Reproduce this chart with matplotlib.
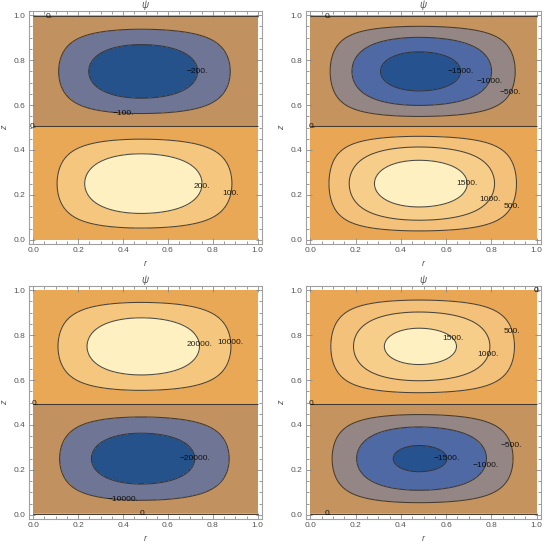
import numpy as np
import matplotlib.pyplot as plt
from matplotlib.ticker import MultipleLocator, FormatStrFormatter

plt.rcParams['font.family'] = ['Liberation Sans', 'DejaVu Sans']

# peak |psi|, sign of psi in the upper cell
amplitudes = [285, 1820, 27500, 1660]
top_sign = [-1, -1, 1, 1]
r_center = 0.48

levels = [
    [-200, -100, 0, 100, 200],
    [-1500, -1000, -500, 0, 500, 1000, 1500],
    [-20000, -10000, 0, 10000, 20000],
    [-1500, -1000, -500, 0, 500, 1000, 1500],
]

# where Mathematica put the contour labels (r, z)
label_pos = [
    [(0.07, 1.0), (0.0, 0.5), (0.69, 0.75), (0.40, 0.555), (0.70, 0.245), (0.86, 0.21)],
    [(0.08, 1.0), (0.01, 0.5), (0.67, 0.75), (0.78, 0.71), (0.87, 0.665), (0.66, 0.25), (0.78, 0.19), (0.87, 0.16)],
    [(0.71, 0.755), (0.87, 0.765), (0.01, 0.5), (0.70, 0.25), (0.40, 0.065), (0.49, 0.0)],
    [(0.87, 0.81), (0.60, 0.755), (0.77, 0.72), (0.01, 0.5), (0.89, 0.31), (0.59, 0.25), (0.77, 0.22), (0.08, 0.0)],
]

colors6 = ['#26528c', '#6f7594', '#c1925f', '#e9a856', '#f5c77e', '#fef0c0']
colors8 = ['#265390', '#4f69a4', '#948684', '#c4935e', '#e9a756', '#f3c17a', '#f7cd8a', '#fef0c0']
band_colors = [colors6, colors8, colors6, colors8]

# axes boxes in pixels: left, top, right, bottom
boxes = [(29, 11, 262, 244), (306, 11, 541, 244), (29, 286, 262, 519), (306, 286, 541, 519)]

W, H = 548, 550
fig = plt.figure(figsize=(W / 100, H / 100), dpi=100)

r = np.linspace(0, 1, 300)
z = np.linspace(0, 1, 300)
RR, ZZ = np.meshgrid(r, z)
d = np.where(RR < r_center, (r_center - RR) / r_center, (RR - r_center) / (1 - r_center))
radial = np.cos(np.pi / 2 * d)

grey = '#8a8a8a'

def fmt(v):
    s = f"{v:g}."
    return s.replace('-', '\u2212')

for i in range(4):
    l, t, rt, b = boxes[i]
    ax = fig.add_axes([l / W, 1 - b / H, (rt - l) / W, (b - t) / H])
    psi = amplitudes[i] * radial * (-top_sign[i] * np.sin(2 * np.pi * ZZ) + 0.03)

    lv = levels[i]
    big = 1e9
    ax.contourf(RR, ZZ, psi, levels=[-big] + lv + [big], colors=band_colors[i])
    cs = ax.contour(RR, ZZ, psi, levels=lv, colors='#2b2b2b', linewidths=0.75,
                    alpha=0.85, linestyles='solid', negative_linestyles='solid')
    texts = ax.clabel(cs, lv, inline=False, fmt=fmt, fontsize=6, colors='black',
                      manual=label_pos[i])
    for tx in texts:
        tx.set_rotation(0)
    if i == 3:
        # the zero contour also touches the top-right corner here
        ax.text(1.0, 1.0, '0.', fontsize=6, ha='center', va='center')

    ax.set_xlim(-0.019, 1.019)
    ax.set_ylim(-0.019, 1.019)
    ax.xaxis.set_major_locator(MultipleLocator(0.2))
    ax.yaxis.set_major_locator(MultipleLocator(0.2))
    ax.xaxis.set_minor_locator(MultipleLocator(0.05))
    ax.yaxis.set_minor_locator(MultipleLocator(0.05))
    ax.xaxis.set_major_formatter(FormatStrFormatter('%.1f'))
    ax.yaxis.set_major_formatter(FormatStrFormatter('%.1f'))
    ax.tick_params(which='both', direction='in', top=True, right=True, color=grey,
                   labelsize=6, labelcolor='#555555', width=0.6, pad=2.5)
    ax.tick_params(which='major', length=4)
    ax.tick_params(which='minor', length=2)
    for sp in ax.spines.values():
        sp.set_color('#a0a0a0')
        sp.set_linewidth(0.8)
    ax.set_title('\u03c8', fontsize=7, color='#555555', pad=2, style='italic')
    ax.set_xlabel('r', fontsize=6.5, color='#555555', style='italic')
    ax.set_ylabel('z', fontsize=6.5, color='#555555', style='italic')
    ax.xaxis.set_label_coords(0.5, -0.065)
    ax.yaxis.set_label_coords(-0.085, 0.5)

fig.savefig('out.png', dpi=100)
